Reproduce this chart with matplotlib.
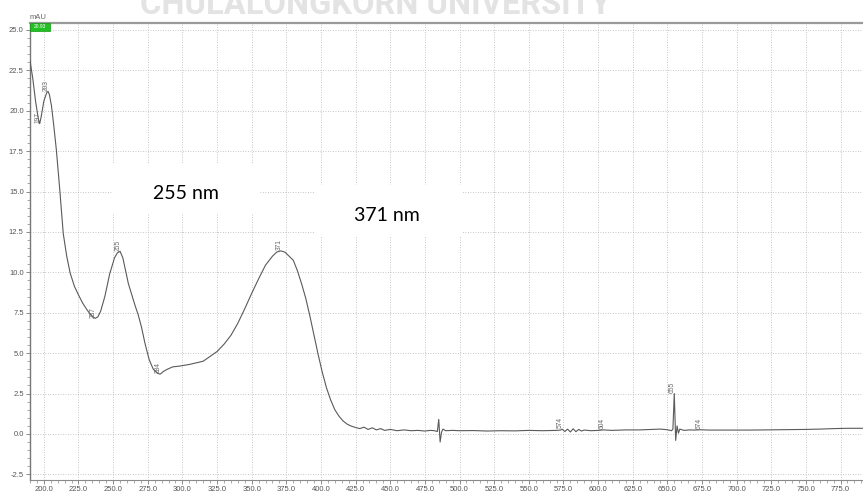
import matplotlib
matplotlib.use("Agg")
import matplotlib.pyplot as plt
from matplotlib.patches import Rectangle
from matplotlib.ticker import MultipleLocator, FormatStrFormatter
import numpy as np

# UV-Vis spectrum (DAD), wavelength in nm, absorbance in mAU
wavelength = [
    190, 192, 194, 196, 197, 198, 200, 202, 203, 204, 205.5, 207, 209, 211.5,
    214, 216.5, 219, 222, 225, 228, 231, 234, 237, 239, 241, 244, 247.5, 251,
    253, 255, 257, 259, 261, 263.5, 266, 268, 270.5, 273, 276, 279, 282, 284,
    286, 289, 293, 298, 305, 310, 315, 320, 325, 330, 335, 340, 345, 350, 355,
    360, 365, 368, 371, 374, 377, 380, 383, 386, 389, 392, 395, 398, 401, 404,
    407, 410, 413, 416, 419, 422, 425, 428, 431, 434, 437, 440, 443, 446, 450,
    455, 460, 465, 470, 475, 479, 482, 484, 485, 486, 487, 488, 490, 495, 500,
    510, 520, 530, 540, 550, 560, 570, 573, 574, 576, 578, 580, 582, 584, 586,
    588, 590, 595, 600, 604, 610, 620, 630, 640, 645, 650, 653, 654, 655, 656,
    657, 658, 659, 662, 666, 670, 674, 680, 690, 700, 710, 720, 730, 740, 750,
    760, 770, 780, 791,
]
absorbance = [
    23.1, 22.0, 20.6, 19.5, 19.2, 19.6, 20.6, 21.1, 21.2, 21.0, 20.3, 19.2, 17.6, 15.1,
    12.4, 11.0, 9.95, 9.15, 8.6, 8.1, 7.7, 7.35, 7.15, 7.25, 7.6, 8.5, 9.9, 10.9,
    11.2, 11.3, 10.9, 10.1, 9.3, 8.6, 7.9, 7.4, 6.6, 5.6, 4.6, 4.0, 3.75, 3.7,
    3.85, 4.0, 4.15, 4.2, 4.3, 4.4, 4.5, 4.8, 5.1, 5.55, 6.1, 6.85, 7.75, 8.7, 9.6,
    10.45, 11.0, 11.25, 11.33, 11.25, 11.0, 10.75, 10.1, 9.3, 8.4, 7.3, 6.1, 4.9, 3.8, 2.85,
    2.1, 1.5, 1.1, 0.8, 0.6, 0.48, 0.4, 0.33, 0.42, 0.28, 0.38, 0.25, 0.33, 0.22, 0.28,
    0.2, 0.25, 0.2, 0.22, 0.18, 0.22, 0.2, 0.15, 0.9, -0.5, 0.1, 0.3, 0.2, 0.22, 0.2,
    0.21, 0.18, 0.2, 0.19, 0.22, 0.2, 0.22, 0.24, 0.3, 0.15, 0.3, 0.12, 0.32, 0.14, 0.28,
    0.18, 0.24, 0.2, 0.22, 0.25, 0.22, 0.25, 0.25, 0.28, 0.3, 0.26, 0.2, 0.3, 2.5, -0.4,
    0.5, 0.05, 0.3, 0.22, 0.25, 0.24, 0.26, 0.24, 0.24, 0.24, 0.24, 0.25, 0.26, 0.27, 0.28,
    0.3, 0.33, 0.35, 0.35,
]

# wavelengths marked by the peak finder
peak_marks = [197, 203, 237, 255, 284, 371, 574, 604, 655, 674]

fig = plt.figure(figsize=(8.63, 4.93), dpi=100)
ax = fig.add_axes([30 / 863, 13 / 493, 833 / 863, 457 / 493])

ax.plot(wavelength, absorbance, color="#5a5a5a", lw=0.8, zorder=3)

for wl in peak_marks:
    yv = np.interp(wl, wavelength, absorbance)
    ax.annotate(str(wl), (wl, yv), xytext=(-1.2, 0.5), textcoords="offset points",
                rotation=90, ha="center", va="bottom", fontsize=4.8,
                color="#666666", family="Liberation Sans", zorder=4)

ax.set_xlim(190, 791.2)
ax.set_ylim(-2.85, 25.43)

ax.xaxis.set_major_locator(MultipleLocator(25))
ax.xaxis.set_minor_locator(MultipleLocator(5))
ax.yaxis.set_major_locator(MultipleLocator(2.5))
ax.yaxis.set_minor_locator(MultipleLocator(0.5))
ax.xaxis.set_major_formatter(FormatStrFormatter("%.1f"))
ax.yaxis.set_major_formatter(FormatStrFormatter("%.1f"))

ax.tick_params(axis="both", which="major", labelsize=5.5, labelcolor="#555555",
               color="#777777", length=3, width=0.6, pad=1.5)
ax.tick_params(axis="both", which="minor", color="#888888", length=2, width=0.5)
for lbl in ax.get_xticklabels() + ax.get_yticklabels():
    lbl.set_family("Liberation Sans")

ax.grid(which="major", color="#b5b5b5", lw=0.6, linestyle=(0, (1, 2)), zorder=0)
ax.set_axisbelow(True)

ax.spines["top"].set_color("#9a9a9a")
ax.spines["top"].set_linewidth(1.6)
ax.spines["left"].set_color("#777777")
ax.spines["left"].set_linewidth(1.0)
ax.spines["bottom"].set_color("#8a8a8a")
ax.spines["bottom"].set_linewidth(0.8)
ax.spines["right"].set_visible(False)

# unit label and the green cursor readout in the corner
ax.text(0.0, 1.004, "mAU", transform=ax.transAxes, fontsize=5.5, color="#666666",
        family="Liberation Sans", ha="left", va="bottom")
ax.add_patch(Rectangle((0.0, 0.983), 0.024, 0.017, transform=ax.transAxes,
                       facecolor="#22c022", edgecolor="#119911", lw=0.5,
                       zorder=5, clip_on=False))
ax.text(0.012, 0.9915, "20.93", transform=ax.transAxes, fontsize=3.5, color="white",
        family="Liberation Sans", ha="center", va="center", zorder=6)

# wavelength callouts on white boxes
ax.add_patch(Rectangle((0.0996, 0.584), 0.1754, 0.110, transform=ax.transAxes,
                       facecolor="white", edgecolor="none", zorder=2))
ax.text(0.1873, 0.628, "255 nm", transform=ax.transAxes, fontsize=14,
        family=["Lato", "DejaVu Sans"], ha="center", va="center", zorder=5)
ax.add_patch(Rectangle((0.342, 0.532), 0.1766, 0.1135, transform=ax.transAxes,
                       facecolor="white", edgecolor="none", zorder=2))
ax.text(0.4286, 0.5777, "371 nm", transform=ax.transAxes, fontsize=14,
        family=["Lato", "DejaVu Sans"], ha="center", va="center", zorder=5)

# faint watermark along the top edge, sized to span ~470 px
wm = fig.text(140 / 863, 1 - 14 / 493, "CHULALONGKORN UNIVERSITY", fontsize=30,
              fontweight="bold", color="#e3e3e3", ha="left", va="baseline",
              family=["Roboto", "DejaVu Sans"], zorder=0)
fig.canvas.draw()
wm_width = wm.get_window_extent().width
wm.set_fontsize(30 * 470 / wm_width)

fig.savefig("out.png", dpi=100)
